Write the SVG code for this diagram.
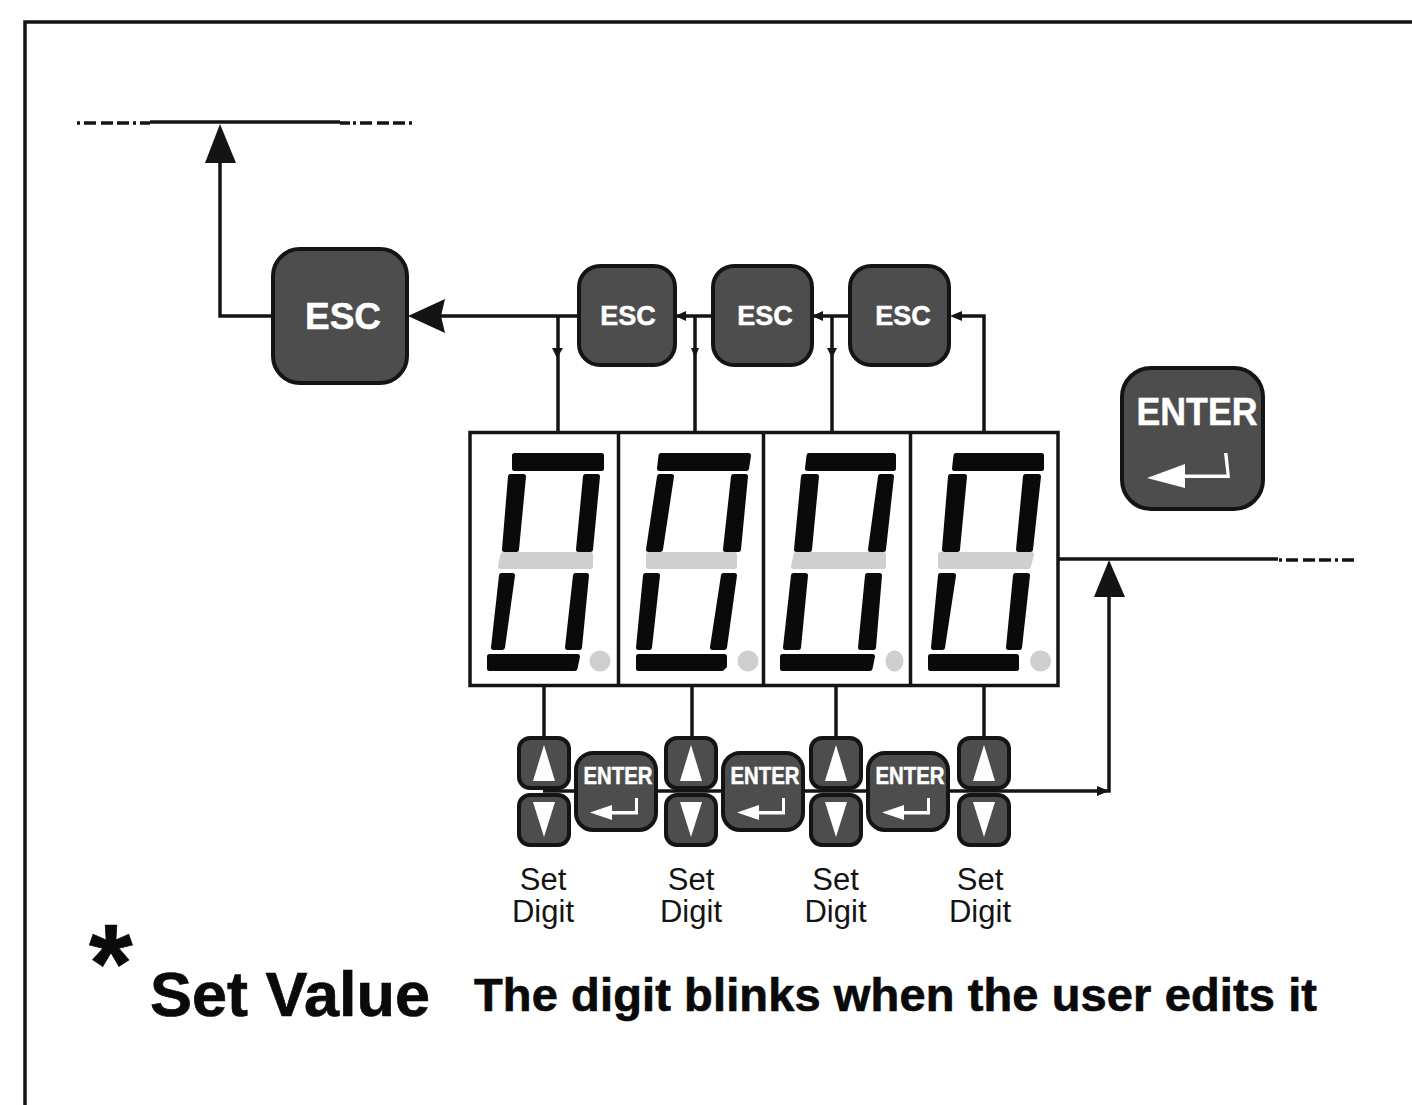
<svg xmlns="http://www.w3.org/2000/svg" width="1412" height="1105" viewBox="0 0 1412 1105">
<style>
text{font-family:"Liberation Sans",Arial,sans-serif}
.btn{fill:#4d4d4d;stroke:#141414;stroke-width:4}
.w{fill:#fff;font-weight:bold;text-anchor:middle;stroke:#fff;stroke-width:.5}
.wire{fill:none;stroke:#141414;stroke-width:3.5}
.thin{fill:none;stroke:#141414;stroke-width:3.5}
.dd{fill:none;stroke:#141414;stroke-width:3.5;stroke-dasharray:3 4 12 5 12 4 12 4}
.ah{fill:#141414}
.seg{fill:#0a0a0a;stroke:#0a0a0a;stroke-width:5;stroke-linejoin:round}
.off{fill:#cfcfcf;stroke:#cfcfcf;stroke-width:5;stroke-linejoin:round}
.dot{fill:#cfcfcf}
.lab{font-size:31px;fill:#141414;text-anchor:middle}
.big{font-weight:bold;fill:#0a0a0a;stroke:#0a0a0a;stroke-width:.7}
</style>
<defs>
<g id="up"><rect class="btn" x="519" y="738" width="50" height="50" rx="11"/><path d="M544 745L555 781H533Z" fill="#fff"/></g>
<g id="down"><rect class="btn" x="519" y="795" width="50" height="50" rx="11"/><path d="M533 802H555L544 837Z" fill="#fff"/></g>
<g id="ent">
<rect class="btn" x="576" y="753" width="80" height="77" rx="17"/>
<text class="w" x="618" y="784" font-size="24" textLength="69" lengthAdjust="spacingAndGlyphs">ENTER</text>
<path d="M590 812.500L612 805V811H635V798H638V814.500H612V820Z" fill="#fff"/>
</g>
</defs>
<rect width="1412" height="1105" fill="#fff"/>
<path class="thin" d="M25 1105V22H1412"/>
<g id="connectors">
<path class="wire" d="M150 122H340"/>
<path class="dd" d="M77 123H150"/>
<path class="wire" d="M340 123H350"/>
<path class="dd" d="M353 123H415"/>
<path class="wire" d="M220 316V160M272 316H218.300"/>
<path class="ah" d="M220 124L236 163H205Z"/>
<path class="wire" d="M440 316H578M675 316H712M812 316H850"/>
<path class="ah" d="M408 316L445 299L441 316L445 333Z"/>
<path class="ah" d="M675 316L686 311V321Z"/>
<path class="ah" d="M812 316L823 311V321Z"/>
<path class="wire" d="M558 316V432M695 316V432M832 316V432M984 432V316H955"/>
<path class="ah" d="M557 358L552 348H563Z"/>
<path class="ah" d="M695 358L691 348H699Z"/>
<path class="ah" d="M832 358L827 348H837Z"/>
<path class="ah" d="M950 316L962 311V321Z"/>
<path class="wire" d="M1058 559H1278"/>
<path class="dd" d="M1279 560H1358"/>
<path class="ah" d="M1109 560L1125 597H1094Z"/>
<path class="wire" d="M1109 595V791H543"/>
<path class="ah" d="M1109 791L1097 786V796Z"/>
<path class="wire" d="M544 685V738M692 685V738M836 685V738M984 685V738"/>
</g>
<g id="display">
<rect x="470" y="432.500" width="588" height="253" fill="#fff" stroke="#141414" stroke-width="3.500"/>
<path class="thin" d="M618.500 432V685M763.500 432V685M910.500 432V685"/>
<g id="digit1">
<path class="seg" d="M514.500 455.500H601.500V468.500H514.500Z"/>
<path class="seg" d="M510.500 476.500H523.500L516.500 549.500H504.500Z"/>
<path class="seg" d="M585.500 476.500H597.500L590.500 549.500H578.500Z"/>
<path class="off" d="M503 554.500H590.500V566.500H500.500Z"/>
<path class="seg" d="M501.500 575.500H512.500L502.500 647.500H493.500Z"/>
<path class="seg" d="M575.500 575.500H586.500L579.500 647.500H567.500Z"/>
<path class="seg" d="M489.500 656.500H577.500L575 668.500H489.500Z"/>
<ellipse class="dot" cx="600" cy="661" rx="10.500" ry="10.500"/>
</g>
<g id="digit2">
<path class="seg" d="M661 455.500H748.500L746.500 468.500H659.500Z"/>
<path class="seg" d="M659.500 476.500H671.500L660.500 549.500H648.500Z"/>
<path class="seg" d="M733.500 476.500H745.500L738.500 549.500H725.500Z"/>
<path class="off" d="M648.500 554.500H734.500V566.500H648.500Z"/>
<path class="seg" d="M645.500 575.500H657.500L649.500 647.500H638.500Z"/>
<path class="seg" d="M723.500 575.500H734.500L724.500 647.500H712.500Z"/>
<path class="seg" d="M638.500 656.500H724.500V666L722 668.500H638.500Z"/>
<ellipse class="dot" cx="748" cy="661" rx="10.500" ry="10.500"/>
</g>
<g id="digit3">
<path class="seg" d="M809 455.500H893.500V468.500H807.500Z"/>
<path class="seg" d="M803.500 476.500H816.500L809.500 549.500H796.500Z"/>
<path class="seg" d="M880.500 476.500H891.500L883.500 549.500H870.500Z"/>
<path class="off" d="M796 554.500H883.500V566.500H793.500Z"/>
<path class="seg" d="M793.500 575.500H805.500L798.500 647.500H785.500Z"/>
<path class="seg" d="M867.500 575.500H879.500L873.500 647.500H860.500Z"/>
<path class="seg" d="M782.500 656.500H872.500L870 668.500H782.500Z"/>
<ellipse class="dot" cx="894.500" cy="661" rx="9" ry="10.500"/>
</g>
<g id="digit4">
<path class="seg" d="M956 455.500H1041.500V468.500H954.500Z"/>
<path class="seg" d="M950.500 476.500H964.500L957.500 549.500H944.500Z"/>
<path class="seg" d="M1025.500 476.500H1038.500L1030.500 549.500H1018.500Z"/>
<path class="off" d="M940.500 554.500H1031.500L1028.500 566.500H940.500Z"/>
<path class="seg" d="M940.500 575.500H953.500L942.500 647.500H933.500Z"/>
<path class="seg" d="M1015.500 575.500H1027.500L1019.500 647.500H1008.500Z"/>
<path class="seg" d="M930.500 656.500H1016.500V668.500H930.500Z"/>
<ellipse class="dot" cx="1040.500" cy="661" rx="10.500" ry="10.500"/>
</g>
</g>
<g id="esc-main"><rect class="btn" x="273" y="249" width="134" height="134" rx="27"/><text class="w" x="343" y="329" font-size="37">ESC</text></g>
<g id="esc1"><rect class="btn" x="579" y="266" width="96" height="99" rx="21"/><text class="w" x="628" y="325" font-size="27">ESC</text></g>
<g id="esc2"><rect class="btn" x="713" y="266" width="99" height="99" rx="21"/><text class="w" x="765" y="325" font-size="27">ESC</text></g>
<g id="esc3"><rect class="btn" x="850" y="266" width="99" height="99" rx="21"/><text class="w" x="903" y="325" font-size="27">ESC</text></g>
<g id="enter-main">
<rect class="btn" x="1122" y="368" width="141" height="141" rx="29"/>
<text class="w" x="1197" y="425" font-size="38" textLength="121" lengthAdjust="spacingAndGlyphs">ENTER</text>
<path d="M1147 478L1185 464V474.500H1226.500L1224 453H1227.500L1230 478H1185V488Z" fill="#fff"/>
</g>
<g id="set1"><use href="#up"/><use href="#down"/></g>
<g id="set2"><use href="#up" x="147"/><use href="#down" x="147"/></g>
<g id="set3"><use href="#up" x="292"/><use href="#down" x="292"/></g>
<g id="set4"><use href="#up" x="440"/><use href="#down" x="440"/></g>
<g id="enter1"><use href="#ent"/></g>
<g id="enter2"><use href="#ent" x="147"/></g>
<g id="enter3"><use href="#ent" x="292"/></g>
<g id="labels">
<text class="lab" x="543" y="890">Set</text><text class="lab" x="543" y="922">Digit</text>
<text class="lab" x="691" y="890">Set</text><text class="lab" x="691" y="922">Digit</text>
<text class="lab" x="835.500" y="890">Set</text><text class="lab" x="835.500" y="922">Digit</text>
<text class="lab" x="980" y="890">Set</text><text class="lab" x="980" y="922">Digit</text>
<text class="big" x="89" y="1002" font-size="112">*</text>
<text class="big" x="150" y="1016" font-size="63" textLength="280" lengthAdjust="spacingAndGlyphs">Set Value</text>
<text class="big" x="474" y="1011" font-size="47" textLength="843">The digit blinks when the user edits it</text>
</g>
</svg>
